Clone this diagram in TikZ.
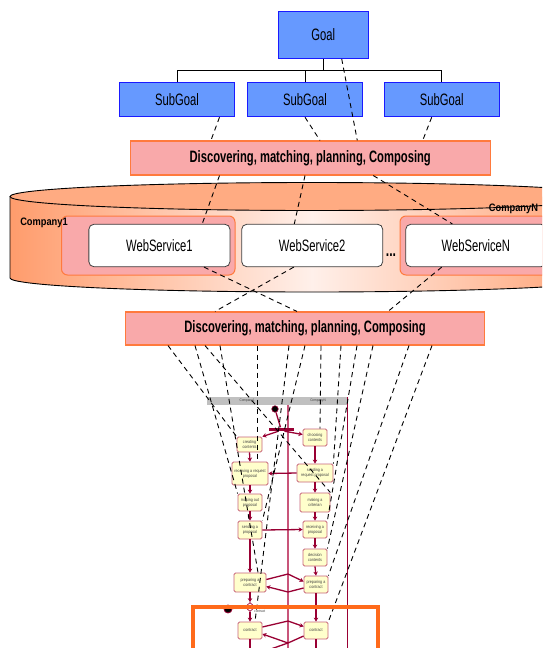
\documentclass[tikz,border=0pt]{standalone}
\usepackage{fontspec}
\usetikzlibrary{calc,arrows.meta,shapes.geometric}
\newfontfamily\nar{Liberation Sans}[FakeStretch=0.68]
\newfontfamily\narb{Liberation Sans}[FakeStretch=0.86]
\definecolor{bluefill}{HTML}{6699FF}
\definecolor{blueline}{HTML}{1A1AFF}
\definecolor{pinkfill}{HTML}{F9A9AA}
\definecolor{orangeline}{HTML}{FF7A3D}
\definecolor{cylorange}{HTML}{FF9C6C}
\definecolor{cyltop}{HTML}{FFAB82}
\definecolor{cyllight}{HTML}{FFF0EA}
\definecolor{maroon}{HTML}{990033}
\definecolor{lanepink}{HTML}{C8557A}
\definecolor{actfill}{HTML}{FFFFCC}
\definecolor{actline}{HTML}{C8647A}
\definecolor{hdrgrey}{HTML}{C0C0C0}
\definecolor{bigorange}{HTML}{FF6A1A}
\tikzset{
  bluebox/.style={draw=blueline, fill=bluefill, line width=1.1pt, inner sep=0pt, font=\nar\fontsize{16.5}{18}\selectfont},
  discbox/.style={draw=orangeline, fill=pinkfill, line width=1.1pt, inner sep=0pt, font=\nar\bfseries\fontsize{16.5}{18}\selectfont},
  compbox/.style={draw=orangeline, fill=pinkfill, line width=1pt, rounded corners=6pt, inner sep=0pt},
  wsbox/.style={draw=black!75, fill=white, line width=0.8pt, rounded corners=5pt, inner sep=0pt, font=\nar\fontsize{16.5}{18}\selectfont},
  treeline/.style={draw=black, line width=0.9pt},
  dashline/.style={draw=black, line width=0.9pt, dash pattern=on 5pt off 4pt},
  act/.style={draw=actline, fill=actfill, rounded corners=1.5pt, line width=0.8pt, inner sep=0pt, align=center, text=black!75, font=\narb\fontsize{4.3}{4.8}\selectfont},
  flow/.style={draw=maroon, line width=1.3pt, -{Stealth[length=4pt,width=4.5pt]}},
  flowline/.style={draw=maroon, line width=1.3pt},
  tinylabel/.style={inner sep=0pt, text=black!75, font=\narb\fontsize{3.6}{4}\selectfont}
}
\begin{document}
\begin{tikzpicture}[x=1pt,y=-1pt]
\useasboundingbox (0,0) rectangle (542,648);
\clip (0,0) rectangle (542,648);
\fill[white] (0,0) rectangle (542,648);

% ---- goals
\node[bluebox, minimum width=90, minimum height=46.6] (goal) at (323.3,35) {Goal};
\node[bluebox, minimum width=115.4, minimum height=34] (sg1) at (177,99.7) {SubGoal};
\node[bluebox, minimum width=115.4, minimum height=34] (sg2) at (305,99.7) {SubGoal};
\node[bluebox, minimum width=115, minimum height=34] (sg3) at (441.8,99.7) {SubGoal};
\coordinate (tj) at (323.3,70.7);
\draw[treeline] (goal.south) -- (tj);
\draw[treeline] (tj) -| (sg1.north);
\draw[treeline] (tj) -| (sg2.north);
\draw[treeline] (tj) -| (sg3.north);

\node[discbox, minimum width=359.7, minimum height=34] (disc1) at (310.2,158) {Discovering, matching, planning, Composing};

% ---- cylinder
\shade[left color=cylorange, right color=cylorange, middle color=cyllight]
  (10,196.5) -- (10,278) arc[start angle=180, end angle=360, x radius=302pt, y radius=14pt] -- (614,196.5) -- cycle;
\draw[line width=0.9pt] (10,196.5) -- (10,278) arc[start angle=180, end angle=360, x radius=302pt, y radius=14pt] -- (614,196.5);
\draw[line width=0.9pt, fill=cyltop] (312,196.5) ellipse [x radius=302pt, y radius=14pt];

\node[compbox, minimum width=173.5, minimum height=59] (c1) at (148.25,245.5) {};
\node[compbox, minimum width=220, minimum height=59] (cN) at (510,245.5) {};
\node[inner sep=0pt, font=\narb\bfseries\fontsize{10.8}{12}\selectfont] (c1lab) at (44,223) {Company1};
\node[inner sep=0pt, font=\narb\bfseries\fontsize{10.8}{12}\selectfont] (cNlab) at (513.5,209) {CompanyN};

\node[wsbox, minimum width=141.1, minimum height=42.4] (ws1) at (159.4,245.5) {WebService1};
\node[wsbox, minimum width=141, minimum height=42.4] (ws2) at (312.2,245.5) {WebService2};
\node[wsbox, minimum width=140.3, minimum height=42.4] (wsN) at (475.9,245.5) {WebServiceN};
\node[inner sep=0pt, anchor=base, font=\nar\bfseries\fontsize{18}{18}\selectfont] (dots) at (391,256) {...};

\node[discbox, minimum width=359, minimum height=33] (disc2) at (305,328.5) {Discovering, matching, planning, Composing};

% ---- activity diagram
\node[fill=hdrgrey, minimum width=141, minimum height=8, inner sep=0pt] (hdr) at (277.5,401) {};
\node[tinylabel] (h1) at (247,401) {Company1};
\node[tinylabel] (h2) at (318,401) {CompanyN};
\coordinate (laneTop) at (288,405);
\coordinate (laneBot) at (288,650);
\draw[lanepink, line width=1.4pt] (laneTop) -- (laneBot);
\coordinate (rbTop) at (347,397);
\coordinate (rbBot) at (347,650);
\draw[maroon, line width=0.9pt] (rbTop) -- (rbBot);

\node[circle, fill=black, draw=maroon, line width=0.6pt, minimum size=6.5, inner sep=0pt] (st) at (275,409) {};
\node[fill=maroon, minimum width=25, minimum height=3.5, inner sep=0pt] (fork) at (281.5,429.25) {};

\node[act, minimum width=25, minimum height=15] (cc) at (249.5,444.5) {creating\\contents};
\node[act, minimum width=24, minimum height=17] (ch) at (315,437.5) {choosing\\contents};
\node[act, minimum width=36, minimum height=23] (rrp) at (250,473.5) {receiving a request\\proposal};
\node[act, minimum width=36, minimum height=18] (srp) at (315,473) {sending a\\request proposal};
\node[act, minimum width=24, minimum height=17] (mop) at (250,502.5) {making out\\proposal};
\node[act, minimum width=30, minimum height=19] (mac) at (315,502.5) {making a\\criterian};
\node[act, minimum width=24, minimum height=18] (sp) at (250,530) {sending a\\proposal};
\node[act, minimum width=24, minimum height=17] (rp) at (315,529.5) {receiving a\\proposal};
\node[act, minimum width=24, minimum height=17] (dc) at (315,557.5) {decision\\contents};
\node[act, minimum width=32, minimum height=19] (pcL) at (250,582.5) {preparing a\\contract};
\node[act, minimum width=24, minimum height=17] (pcR) at (316,584.5) {preparing a\\contract};
\node[act, minimum width=24, minimum height=17] (ctL) at (250,630.5) {contract};
\node[act, minimum width=24, minimum height=17] (ctR) at (316,630.5) {contract};
\node[diamond, draw=maroon, fill=white, line width=0.7pt, minimum width=10, minimum height=9, inner sep=0pt] (dia) at (250,607) {};
\node[circle, draw=maroon, line width=0.8pt, fill=black, minimum size=8, inner sep=0pt] (fin) at (228,609) {};
\node[tinylabel, align=left, anchor=west] (dlab) at (254,609) {decision for\\contract};

\draw[flowline] (st) -- ($(fork.north)+(-1,0)$);
\draw[flow] ($(fork.south)+(-3,0)$) -- (cc.north east);
\draw[flow] ($(fork.south)+(3,0)$) -- ($(ch.west)+(0,-3)$);
\draw[flow] (cc.south) -- (rrp.north);
\draw[flow] (ch.south) -- (srp.north);
\draw[flow] (srp.west) -- (rrp.east);
\draw[flow] (rrp.south) -- (mop.north);
\draw[flow] (srp.south) -- (mac.north);
\draw[flow] (mop.south) -- (sp.north);
\draw[flow] (mac.south) -- (rp.north);
\draw[flow] (sp.east) -- (rp.west);
\draw[flow] (rp.south) -- (dc.north);
\draw[flow] (sp.south) -- (pcL.north);
\draw[flow] (dc.south) -- (pcR.north);
\coordinate (pk1) at (288,574);
\coordinate (pk2) at (288,592);
\draw[flow] ($(pcL.east)+(0,-3)$) -- (pk1) -- ($(pcR.west)+(0,-3)$);
\draw[flow] ($(pcR.west)+(0,3.5)$) -- (pk2) -- ($(pcL.east)+(0,4)$);
\draw[flow] (pcL.south) -- (dia.north);
\draw[flowline] (fin) -- (dia.west);
\draw[flow] (dia.south) -- (ctL.north);
\draw[flow] (pcR.south) -- (ctR.north);
\coordinate (pk3) at (288,621);
\coordinate (pk4) at (288,643);
\draw[flow] ($(ctL.east)+(0,-3.5)$) -- (pk3) -- ($(ctR.west)+(0,-4)$);
\draw[flow] ($(ctR.west)+(0,5.5)$) -- (pk4) -- ($(ctL.east)+(0,3.5)$);
\coordinate (bl) at (268,650);
\draw[flowline] (pk4) -- (bl);
\coordinate (lbot) at (250,650);
\coordinate (rbot) at (316,650);
\draw[flowline] (ctL.south) -- (lbot);
\draw[flowline] (ctR.south) -- (rbot);

% ---- dashed connectors (top)
\draw[dashline] ($(sg1.south)+(42.5,0)$) -- ($(disc1.north)+(-99.3,0)$);
\draw[dashline] (sg2.south) -- ($(disc1.north)+(9.8,0)$);
\draw[dashline] ($(sg3.south)+(-10.1,0)$) -- ($(disc1.north)+(112.5,0)$);
\draw[dashline] ($(goal.south)+(18.4,0)$) -- ($(disc1.north)+(47.1,0)$);
\draw[dashline] ($(disc1.south)+(-90.7,0)$) -- ($(ws1.north)+(42.8,0)$);
\draw[dashline] ($(disc1.south)+(-5.2,0)$) -- ($(ws2.north)+(-17.9,0)$);
\draw[dashline] ($(disc1.south)+(63.1,0)$) -- ($(wsN.north)+(-23.6,0)$);
\draw[dashline] ($(ws1.south)+(44.6,0)$) -- ($(disc2.north)+(-8,0)$);
\draw[dashline] ($(ws2.south)+(-18.4,0)$) -- ($(disc2.north)+(-90,0)$);
\draw[dashline] ($(wsN.south)+(-34.2,0)$) -- ($(disc2.north)+(83,0)$);

% ---- dashed connectors (activities)
\draw[dashline] ($(disc2.south)+(-137,0)$) -- (cc.north west);
\draw[dashline] ($(disc2.south)+(-110,0)$) -- (mop.north west);
\draw[dashline] ($(disc2.south)+(-100,0)$) -- (mac.north east);
\draw[dashline] ($(disc2.south)+(-85,0)$) -- ($(pcL.north)+(8,0)$);
\draw[dashline] ($(disc2.south)+(-48,0)$) -- ($(rrp.north)+(7,0)$);
\draw[dashline] ($(disc2.south)+(-16,0)$) -- ($(ctL.north)+(5,0)$);
\draw[dashline] ($(disc2.south)+(0,0)$) -- (sp.north east);
\draw[dashline] ($(disc2.south)+(16,0)$) -- ($(ch.north)+(5,0)$);
\draw[dashline] ($(disc2.south)+(36,0)$) -- (srp.north east);
\draw[dashline] ($(disc2.south)+(52,0)$) -- (rp.north east);
\draw[dashline] ($(disc2.south)+(68,0)$) -- (dc.north east);
\draw[dashline] ($(disc2.south)+(104,0)$) -- (pcR.north east);
\draw[dashline] ($(disc2.south)+(127,0)$) -- (ctR.north east);

% ---- orange frame
\coordinate (ofA) at (193,607);
\coordinate (ofB) at (378,700);
\draw[bigorange, line width=3.5pt] (ofA) rectangle (ofB);
\end{tikzpicture}
\end{document}
